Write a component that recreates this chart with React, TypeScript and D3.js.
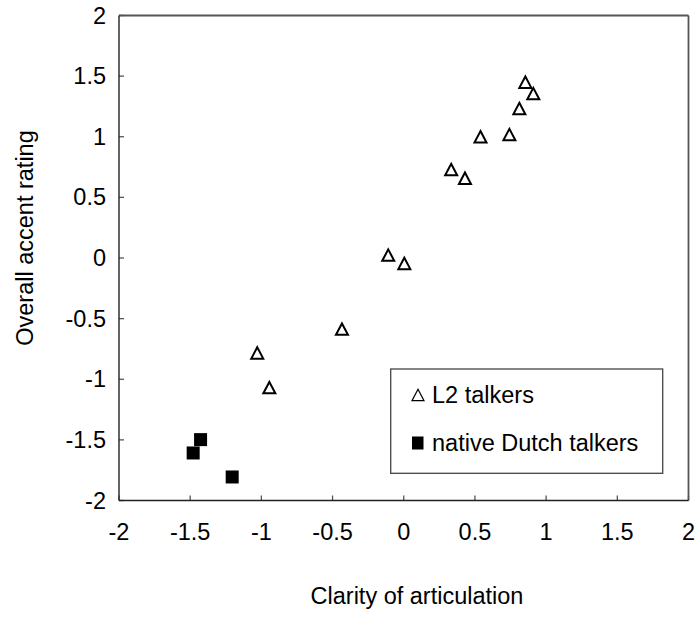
import React from "react";
import * as d3 from "d3";

const l2X = [0.854, 0.91, 0.812, 0.742, 0.539, 0.333, 0.43, -0.109, 0.004, -0.434, -1.029, -0.944];
const l2Y = [1.45, 1.356, 1.233, 1.018, 1.0, 0.73, 0.658, 0.024, -0.045, -0.587, -0.783, -1.069];
const nativeX = [-1.479, -1.427, -1.205];
const nativeY = [-1.608, -1.498, -1.806];
const tickValues = [-2, -1.5, -1, -0.5, 0, 0.5, 1, 1.5, 2];
const tickLabels = ["-2", "-1.5", "-1", "-0.5", "0", "0.5", "1", "1.5", "2"];
const legendLabels = ["L2 talkers", "native Dutch talkers"];
const xTitle = "Clarity of articulation";
const yTitle = "Overall accent rating";

const W = 696;
const H = 621;
const left = 119;
const right = 688.5;
const top = 15.5;
const bottom = 500.5;
const font = "'Liberation Sans', Arial, sans-serif";
const fs = 23.5;

export default function App() {
  const x = d3.scaleLinear().domain([-2, 2]).range([left, right]);
  const y = d3.scaleLinear().domain([-2, 2]).range([bottom, top]);
  const tri = (cx: number, cy: number, s: number) => {
    const h = s * 0.95;
    return `M${cx},${cy - h / 2}L${cx + s / 2},${cy + h / 2}L${cx - s / 2},${cy + h / 2}Z`;
  };
  const sq = 13;
  return (
    <svg
      width={W}
      height={H}
      style={{ position: "absolute", left: 0, top: 0, background: "#fff" }}
      fontFamily={font}
    >
      <rect x={0} y={0} width={W} height={H} fill="#fff" />
      {/* top & right frame */}
      <line x1={left} x2={right} y1={top} y2={top} stroke="#555" strokeWidth={1.8} />
      <line x1={right} x2={right} y1={top} y2={bottom} stroke="#555" strokeWidth={1.8} />
      {/* ticks */}
      {tickValues.map((v, i) => (
        <g key={"t" + i}>
          <line x1={left} x2={left + 5} y1={y(v)} y2={y(v)} stroke="#555" strokeWidth={1.3} />
          <line x1={x(v)} x2={x(v)} y1={bottom} y2={bottom - 5} stroke="#555" strokeWidth={1.3} />
          <text
            x={left - 13}
            y={y(v)}
            textAnchor="end"
            dominantBaseline="central"
            fontSize={fs}
            fill="#000"
          >
            {tickLabels[i]}
          </text>
          <text
            x={x(v)}
            y={bottom + 31}
            textAnchor="middle"
            dominantBaseline="central"
            fontSize={fs}
            fill="#000"
          >
            {tickLabels[i]}
          </text>
        </g>
      ))}
      {/* left & bottom axes */}
      <line x1={left} x2={left} y1={top} y2={bottom} stroke="#222" strokeWidth={1.4} />
      <line x1={left} x2={right} y1={bottom} y2={bottom} stroke="#222" strokeWidth={1.4} />
      {/* data */}
      {l2X.map((v, i) => (
        <path key={"l" + i} d={tri(x(v), y(l2Y[i]), 12)} fill="none" stroke="#000" strokeWidth={2} />
      ))}
      {nativeX.map((v, i) => (
        <rect key={"n" + i} x={x(v) - sq / 2} y={y(nativeY[i]) - sq / 2} width={sq} height={sq} fill="#000" />
      ))}
      {/* legend */}
      <rect x={390.7} y={369} width={272} height={104.3} fill="#fff" stroke="#444" strokeWidth={1.3} />
      <path d={tri(418, 395, 12)} fill="none" stroke="#000" strokeWidth={1.2} />
      <text x={432} y={395} dominantBaseline="central" fontSize={fs} fill="#000">
        {legendLabels[0]}
      </text>
      <rect x={412} y={436.5} width={11.5} height={13} fill="#000" />
      <text x={432} y={443} dominantBaseline="central" fontSize={fs} fill="#000">
        {legendLabels[1]}
      </text>
      {/* titles */}
      <text x={417} y={604} textAnchor="middle" fontSize={fs} fill="#000">
        {xTitle}
      </text>
      <text
        transform={`translate(33,${(top + bottom) / 2 - 20}) rotate(-90)`}
        textAnchor="middle"
        fontSize={fs}
        fill="#000"
      >
        {yTitle}
      </text>
    </svg>
  );
}
